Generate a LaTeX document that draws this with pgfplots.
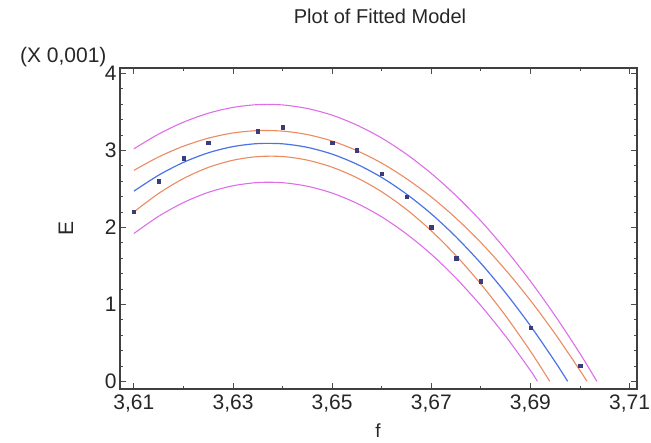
\documentclass[border=0pt]{standalone}
\usepackage{pgfplots}
\pgfplotsset{compat=1.18}
\usepackage{fontspec}
\setmainfont{Liberation Sans}
\definecolor{fitblue}{RGB}{75,115,228}
\definecolor{confor}{RGB}{236,138,98}
\definecolor{predmag}{RGB}{222,110,232}
\definecolor{ptcol}{RGB}{60,60,125}
\begin{document}
\begin{tikzpicture}
\begin{axis}[
  at={(120bp,54bp)}, anchor=south west,
  scale only axis, width=517bp, height=321bp,
  xmin=3.6072, xmax=3.7115, ymin=-0.1, ymax=4.07,
  xtick={3.61,3.63,3.65,3.67,3.69,3.71},
  ytick={0,1,2,3,4},
  minor y tick num=4, minor x tick num=1,
  tick align=inside,
  major tick length=6bp, minor tick length=3bp,
  every tick/.style={black!70, line width=0.8bp},
  axis line style={black!75, line width=1.2bp},
  scaled x ticks=false, scaled y ticks=false,
  xticklabel style={/pgf/number format/.cd, fixed, fixed zerofill, precision=2, use comma, /tikz/.cd, yshift=-2bp},
  yticklabel style={/pgf/number format/.cd, fixed, precision=0},
  /pgf/number format/assume math mode=true,
  tick label style={font=\fontsize{21bp}{25bp}\selectfont, text=black!85},
  clip=true,
]
\addplot[predmag, line width=1.1bp, smooth] coordinates {
(3.610,3.020) (3.615,3.212) (3.620,3.366) (3.625,3.482) (3.630,3.558) (3.635,3.594) (3.640,3.590) (3.645,3.544) (3.650,3.457) (3.655,3.328) (3.660,3.160) (3.665,2.950) (3.670,2.700) (3.675,2.411) (3.680,2.083) (3.685,1.711) (3.690,1.301) (3.695,0.850) (3.700,0.360) (3.7034,0)
};
\addplot[predmag, line width=1.1bp, smooth] coordinates {
(3.610,1.920) (3.615,2.144) (3.620,2.322) (3.625,2.454) (3.630,2.540) (3.635,2.582) (3.640,2.580) (3.645,2.534) (3.650,2.445) (3.655,2.312) (3.660,2.136) (3.665,1.914) (3.670,1.650) (3.675,1.339) (3.680,0.983) (3.685,0.585) (3.690,0.141) (3.6914,0)
};
\addplot[confor, line width=1.1bp, smooth] coordinates {
(3.610,2.740) (3.615,2.915) (3.620,3.054) (3.625,3.158) (3.630,3.226) (3.635,3.257) (3.640,3.250) (3.645,3.205) (3.650,3.121) (3.655,2.996) (3.660,2.834) (3.665,2.632) (3.670,2.395) (3.675,2.118) (3.680,1.803) (3.685,1.446) (3.690,1.051) (3.695,0.615) (3.700,0.140) (3.7014,0)
};
\addplot[confor, line width=1.1bp, smooth] coordinates {
(3.610,2.200) (3.615,2.441) (3.620,2.634) (3.625,2.778) (3.630,2.872) (3.635,2.919) (3.640,2.920) (3.645,2.873) (3.650,2.781) (3.655,2.644) (3.660,2.462) (3.665,2.232) (3.670,1.955) (3.675,1.632) (3.680,1.263) (3.685,0.850) (3.690,0.391) (3.6939,0)
};
\addplot[fitblue, line width=1.2bp, smooth] coordinates {
(3.610,2.470) (3.615,2.678) (3.620,2.844) (3.625,2.968) (3.630,3.049) (3.635,3.088) (3.640,3.085) (3.645,3.039) (3.650,2.951) (3.655,2.820) (3.660,2.648) (3.665,2.432) (3.670,2.175) (3.675,1.875) (3.680,1.533) (3.685,1.148) (3.690,0.721) (3.695,0.252) (3.6975,0)
};
\addplot[only marks, mark=square*, mark size=1.7bp, mark options={fill=ptcol, draw=ptcol}] coordinates {
(3.610,2.20) (3.615,2.60) (3.620,2.90) (3.625,3.10) (3.635,3.25) (3.640,3.30) (3.650,3.10) (3.655,3.00) (3.660,2.70) (3.665,2.40) (3.670,2.00) (3.675,1.60) (3.680,1.30) (3.690,0.70) (3.700,0.20)
};
\end{axis}
\node[anchor=base, font=\fontsize{20bp}{24bp}\selectfont, text=black!85] at (380bp,419bp) {Plot of Fitted Model};
\node[anchor=base east, font=\fontsize{21bp}{25bp}\selectfont, text=black!85] at (110bp,380bp) {(X 0,001)};
\node[rotate=90, font=\fontsize{21bp}{25bp}\selectfont, text=black!85] at (66bp,215bp) {E};
\node[anchor=base, inner sep=0pt, font=\fontsize{19bp}{23bp}\selectfont, text=black!85] at (378bp,6bp) {f};
\pgfresetboundingbox
\path[use as bounding box] (0,0) rectangle (651bp,443bp);
\end{tikzpicture}
\end{document}
